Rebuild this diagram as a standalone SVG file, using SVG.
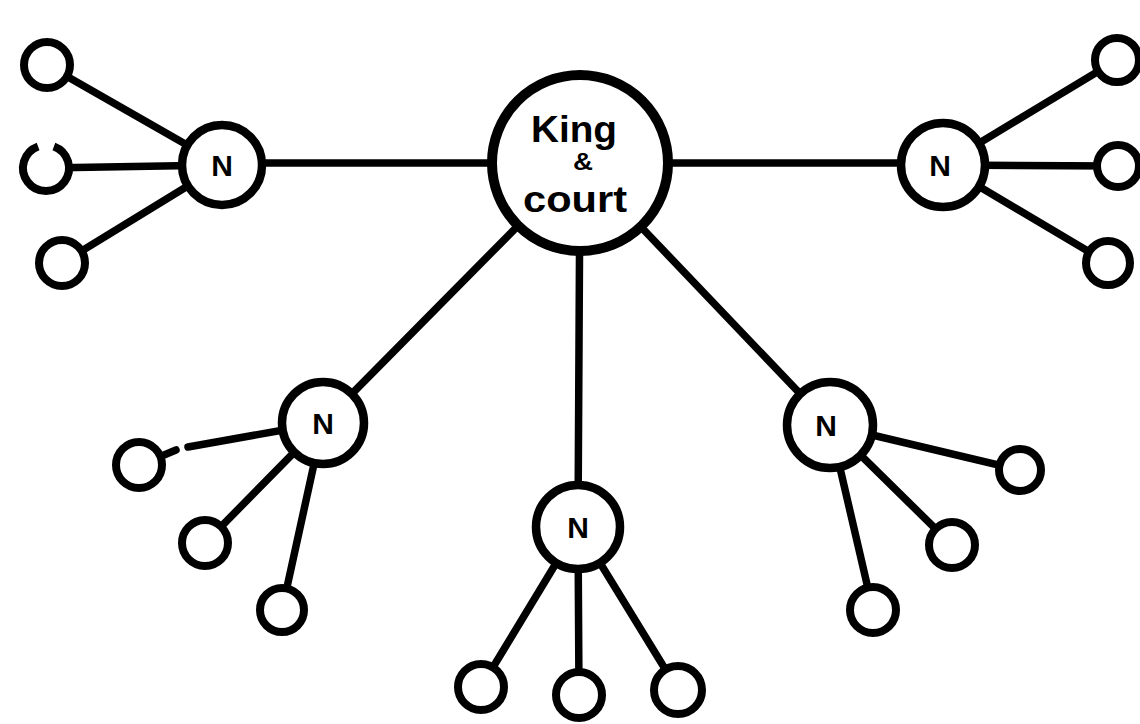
<svg xmlns="http://www.w3.org/2000/svg" width="1140" height="724" viewBox="0 0 1140 724">
  <style>
    .edge { stroke: #000; stroke-width: 7.5; stroke-linecap: round; fill: none; }
    .leaf { fill: #fff; stroke: #000; stroke-width: 8; }
    .hub { fill: #fff; stroke: #000; stroke-width: 8.5; }
    .king { fill: #fff; stroke: #000; stroke-width: 10; }
    .lbl { font-family: "Liberation Sans", Arial, sans-serif; font-weight: bold; fill: #000; text-anchor: middle; }
    .n { font-size: 30px; }
  </style>
  <rect width="1140" height="724" fill="#fff"/>

  <!-- connectors -->
  <g id="connectors">
    <!-- king to the five nobles -->
    <line class="edge" x1="580" y1="163" x2="222" y2="163"/>
    <line class="edge" x1="580" y1="163" x2="943" y2="163"/>
    <line class="edge" x1="580" y1="163" x2="323" y2="423"/>
    <line class="edge" x1="580" y1="163" x2="578" y2="527"/>
    <line class="edge" x1="580" y1="163" x2="830" y2="425"/>
    <!-- left noble -->
    <line class="edge" x1="222" y1="165" x2="47" y2="65"/>
    <line class="edge" x1="222" y1="165" x2="46" y2="168"/>
    <line class="edge" x1="222" y1="165" x2="62" y2="263"/>
    <!-- right noble -->
    <line class="edge" x1="943" y1="165" x2="1117" y2="60"/>
    <line class="edge" x1="943" y1="165" x2="1118" y2="166"/>
    <line class="edge" x1="943" y1="165" x2="1108" y2="263"/>
    <!-- lower-left noble (broken line to the first vassal) -->
    <line class="edge" x1="323" y1="423" x2="188" y2="447"/>
    <line class="edge" x1="176" y1="450" x2="140" y2="465"/>
    <line class="edge" x1="323" y1="423" x2="205" y2="543"/>
    <line class="edge" x1="323" y1="423" x2="282" y2="610"/>
    <!-- bottom noble -->
    <line class="edge" x1="578" y1="527" x2="481" y2="687"/>
    <line class="edge" x1="578" y1="527" x2="579" y2="695"/>
    <line class="edge" x1="578" y1="527" x2="678" y2="690"/>
    <!-- lower-right noble -->
    <line class="edge" x1="830" y1="425" x2="1020" y2="470"/>
    <line class="edge" x1="830" y1="425" x2="952" y2="545"/>
    <line class="edge" x1="830" y1="425" x2="873" y2="610"/>
  </g>

  <!-- king & court -->
  <g id="king">
    <circle class="king" cx="580" cy="163" r="88"/>
    <text class="lbl" x="574" y="142" font-size="36" textLength="86" lengthAdjust="spacingAndGlyphs">King</text>
    <text class="lbl" x="583" y="170" font-size="24" textLength="20" lengthAdjust="spacingAndGlyphs">&amp;</text>
    <text class="lbl" x="575" y="212" font-size="36" textLength="104" lengthAdjust="spacingAndGlyphs">court</text>
  </g>

  <!-- nobles -->
  <g id="noble-left">
    <circle class="hub" cx="222" cy="165" r="40"/>
    <text class="lbl n" x="222" y="176">N</text>
  </g>
  <g id="noble-right">
    <circle class="hub" cx="943" cy="165" r="42"/>
    <text class="lbl n" x="940" y="176">N</text>
  </g>
  <g id="noble-lower-left">
    <circle class="hub" cx="323" cy="423" r="41"/>
    <text class="lbl n" x="323" y="434">N</text>
  </g>
  <g id="noble-bottom">
    <circle class="hub" cx="578" cy="527" r="42"/>
    <text class="lbl n" x="578" y="538">N</text>
  </g>
  <g id="noble-lower-right">
    <circle class="hub" cx="830" cy="425" r="43"/>
    <text class="lbl n" x="826" y="436">N</text>
  </g>

  <!-- vassals -->
  <g id="vassal-l1"><circle class="leaf" cx="47" cy="65" r="23"/></g>
  <g id="vassal-l2"><path class="leaf" d="M53.9 146.4 A23 23 0 1 1 38.1 146.4"/></g>
  <g id="vassal-l3"><circle class="leaf" cx="62" cy="263" r="23"/></g>

  <g id="vassal-r1"><circle class="leaf" cx="1117" cy="60" r="22"/></g>
  <g id="vassal-r2"><circle class="leaf" cx="1118" cy="166" r="21"/></g>
  <g id="vassal-r3"><circle class="leaf" cx="1108" cy="263" r="22"/></g>

  <g id="vassal-ll1"><circle class="leaf" cx="139" cy="465" r="23"/></g>
  <g id="vassal-ll2"><circle class="leaf" cx="205" cy="543" r="23"/></g>
  <g id="vassal-ll3"><circle class="leaf" cx="282" cy="610" r="22"/></g>

  <g id="vassal-b1"><circle class="leaf" cx="481" cy="687" r="23"/></g>
  <g id="vassal-b2"><circle class="leaf" cx="579" cy="695" r="23"/></g>
  <g id="vassal-b3"><circle class="leaf" cx="678" cy="690" r="24"/></g>

  <g id="vassal-lr1"><circle class="leaf" cx="1020" cy="470" r="21"/></g>
  <g id="vassal-lr2"><circle class="leaf" cx="952" cy="545" r="23"/></g>
  <g id="vassal-lr3"><circle class="leaf" cx="873" cy="610" r="23"/></g>
</svg>
